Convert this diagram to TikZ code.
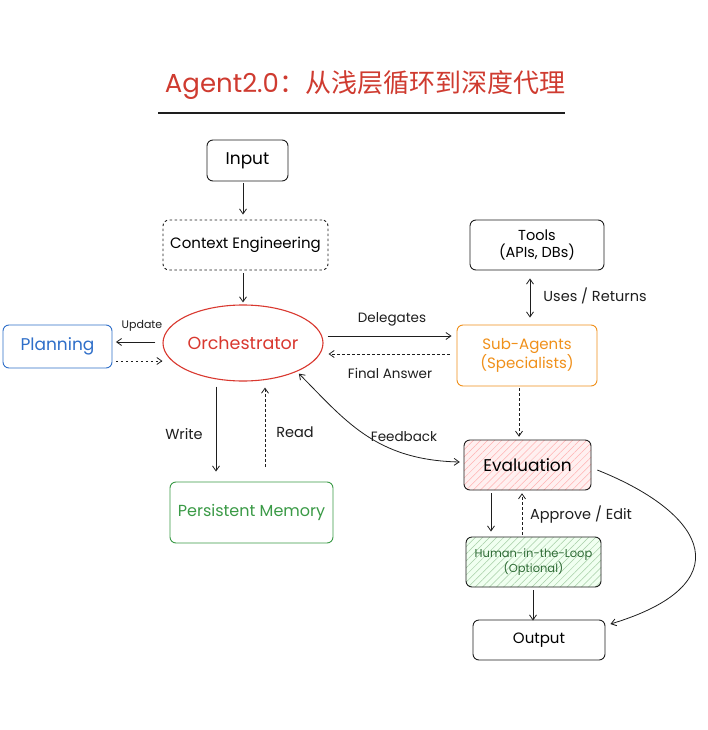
\documentclass[tikz,border=0pt]{standalone}
\usepackage{fontspec}
\setmainfont{Poppins}
\newfontfamily\cjkfont{Noto Sans CJK SC}
\usetikzlibrary{arrows.meta,shapes.geometric,patterns.meta}
\definecolor{ink}{HTML}{1E1E1E}
\definecolor{xred}{HTML}{D9382F}
\definecolor{titlered}{HTML}{CF3B30}
\definecolor{xblue}{HTML}{2F6FC9}
\definecolor{xgreen}{HTML}{3A9A46}
\definecolor{xorange}{HTML}{F0901A}
\definecolor{hgreen}{HTML}{2E6B35}
\tikzset{
  box/.style={draw=ink, line width=0.9pt, rounded corners=6pt, align=center, inner sep=0pt},
  arr/.style={draw=ink, line width=0.8pt, -{Straight Barb[length=5pt,width=7pt]}},
  darr/.style={arr, dash pattern=on 2.5pt off 2.5pt},
  lbl/.style={text=ink, font=\fontsize{13.5}{15}\selectfont, inner sep=1pt},
}
\begin{document}
\begin{tikzpicture}[x=1pt,y=-1pt]
\useasboundingbox (0,0) rectangle (708,730);
\fill[white] (0,0) rectangle (708,730);
% title
\node[text=titlered, font=\fontsize{26}{28}\selectfont] (title) at (365,85) {Agent2.0\cjkfont：从浅层循环到深度代理};
\draw[ink, line width=1.1pt] (158,113) -- (565,113);
% nodes
\node[box, minimum width=81, minimum height=41, font=\fontsize{17}{18}\selectfont] (input) at (247.5,160.5) {Input};
\node[box, dash pattern=on 2.5pt off 2.5pt, minimum width=165, minimum height=50, font=\fontsize{15}{16}\selectfont] (ctx) at (245.5,245) {Context Engineering};
\node[draw=xred, line width=1.1pt, ellipse, minimum width=160, minimum height=76, inner sep=0pt, text=xred, font=\fontsize{17.5}{19}\selectfont] (orch) at (243,343) {Orchestrator};
\node[box, draw=xblue, minimum width=109, minimum height=43, text=xblue, font=\fontsize{17}{20}\selectfont] (plan) at (57.5,346.5) {Planning};
\node[box, draw=xorange, minimum width=140, minimum height=61, text=xorange, font=\fontsize{15}{19}\selectfont] (sub) at (527,355.5) {Sub-Agents\\(Specialists)};
\node[box, minimum width=134, minimum height=50, font=\fontsize{14.5}{17}\selectfont] (tools) at (537,245) {Tools\\(APIs, DBs)};
\node[box, minimum width=127, minimum height=50, font=\fontsize{17}{18}\selectfont,
  preaction={fill=red!6}, pattern={Lines[angle=45,distance=5pt,line width=0.5pt]}, pattern color=red!30] (eval) at (527.5,465) {Evaluation};
\node[box, minimum width=135, minimum height=50, text=hgreen, font=\fontsize{11.5}{15}\selectfont,
  preaction={fill=green!6}, pattern={Lines[angle=45,distance=5pt,line width=0.5pt]}, pattern color=green!45!black!35] (human) at (533.5,562) {Human-in-the-Loop\\(Optional)};
\node[box, minimum width=132, minimum height=40, font=\fontsize{15}{17}\selectfont] (out) at (539,640) {Output};
\node[box, draw=xgreen, minimum width=163, minimum height=61, text=xgreen, font=\fontsize{16}{17}\selectfont] (mem) at (251.5,512.5) {Persistent Memory};
% connectors
\draw[arr] ([shift={(-4.5,2)}]input.south) -- ([shift={(-2.5,-5)}]ctx.north);
\draw[arr] ([shift={(-2.5,3)}]ctx.south) -- ([shift={(0,-2)}]orch.north);
\draw[arr] ([shift={(-7,-1)}]orch.west) -- ([shift={(3.5,-4.5)}]plan.east);
\node[lbl, font=\fontsize{11}{13}\selectfont] (lupd) at (142,326) {Update};
\draw[darr] ([shift={(3.5,14.5)}]plan.east) -- ([shift={(0,18)}]orch.west);
\draw[arr] ([shift={(4,-7)}]orch.east) -- ([shift={(-5,-19.5)}]sub.west);
\node[lbl] (ldel) at (392,319) {Delegates};
\draw[darr] ([shift={(-7,-1.5)}]sub.west) -- ([shift={(5,11)}]orch.east);
\node[lbl] (lfin) at (390,373) {Final Answer};
\draw[draw=ink, line width=0.8pt, {Straight Barb[length=5pt,width=7pt]}-{Straight Barb[length=5pt,width=7pt]}] ([shift={(-7,8)}]tools.south) -- ([shift={(3,-7)}]sub.north);
\node[lbl, font=\fontsize{14.5}{16}\selectfont] (luse) at (595,296) {Uses / Returns};
\draw[darr] ([shift={(-8,2)}]sub.south) -- ([shift={(-8.5,-3)}]eval.north);
\draw[arr] ([shift={(-36.5,3)}]eval.south) -- ([shift={(-42.5,-5)}]human.north);
\draw[darr] ([shift={(-11.5,-2)}]human.north) -- ([shift={(-5.5,3)}]eval.south);
\node[lbl, font=\fontsize{14.5}{16}\selectfont] (lapp) at (581,515) {Approve / Edit};
\draw[arr] ([shift={(-0.5,3)}]human.south) -- ([shift={(-6,1)}]out.north);
\draw[arr] ([shift={(6,5)}]eval.east) .. controls (710,515) and (740,585) .. ([shift={(5,-16)}]out.east);
\draw[draw=ink, line width=0.8pt, {Straight Barb[length=5pt,width=7pt]}-{Straight Barb[length=5pt,width=7pt]}] ([shift={(2,2)}]orch.-28) .. controls (345,420) and (375,460) .. ([shift={(-4,-3)}]eval.west);
\node[lbl] (lfb) at (404,437) {Feedback};
\draw[arr] ([shift={(-27,5)}]orch.south) -- ([shift={(-35.5,-10)}]mem.north);
\node[lbl, font=\fontsize{14.5}{16}\selectfont] (lwr) at (184,434) {Write};
\draw[darr] ([shift={(13.5,-15)}]mem.north) -- ([shift={(22,6)}]orch.south);
\node[lbl, font=\fontsize{14.5}{16}\selectfont] (lrd) at (295,432) {Read};
\end{tikzpicture}
\end{document}
